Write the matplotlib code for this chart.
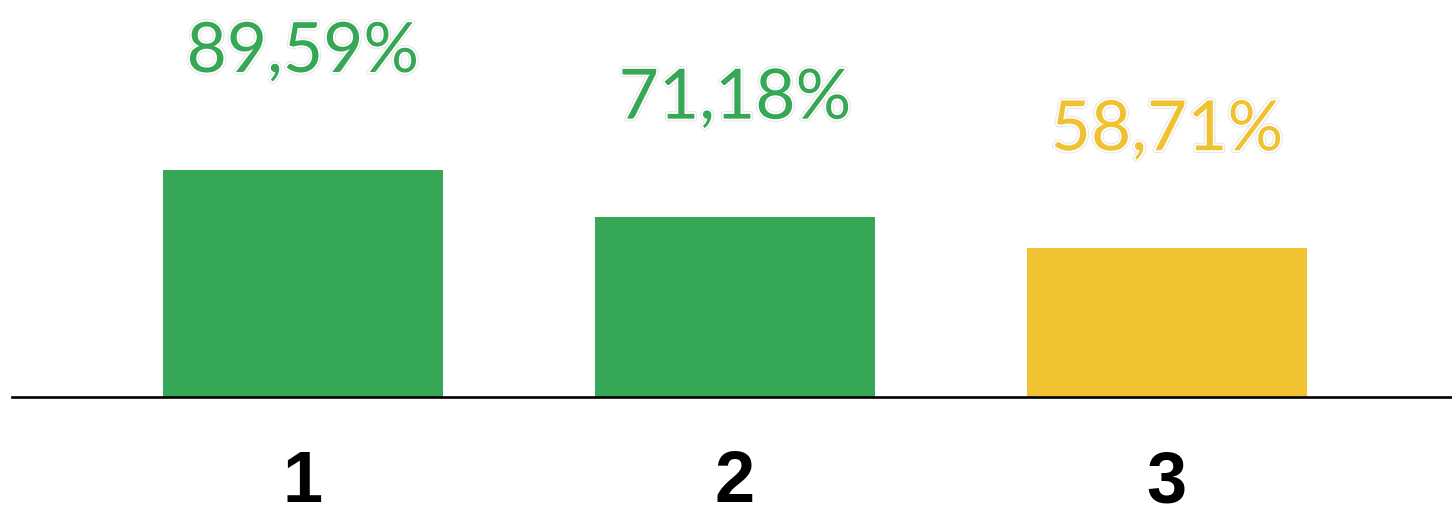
import matplotlib.pyplot as plt
import matplotlib.patheffects as pe

categories = ["1", "2", "3"]
values = [89.59, 71.18, 58.71]
labels = ["89,59%", "71,18%", "58,71%"]
colors = ["#36a755", "#36a755", "#f0c232"]

fig = plt.figure(figsize=(14.52, 5.07), dpi=100)
ax = fig.add_axes([0, 0, 1, 1])
ax.set_xlim(-0.701, 2.660)
ax.set_ylim(-43.4, 156.7)
ax.axis("off")

x = list(range(len(categories)))
ax.bar(x, values, width=0.648, color=colors, zorder=2)
ax.axhline(0, xmin=0.008, xmax=1, color="black", lw=1.9, zorder=3)

# percentage labels with a light halo
for xi, v, lab, c in zip(x, values, labels, colors):
    ax.text(xi, v + 38.7, lab, ha="center", va="baseline", fontsize=50,
            family="Lato", color=c,
            path_effects=[pe.withStroke(linewidth=4, foreground="#e6e6e6"),
                          pe.withStroke(linewidth=2.5, foreground="white")])

for xi, cat in zip(x, categories):
    ax.text(xi, -41.6, cat, ha="center", va="baseline", fontsize=52,
            family="Liberation Sans", fontweight="bold", color="black")

fig.savefig("out.png", dpi=100)
